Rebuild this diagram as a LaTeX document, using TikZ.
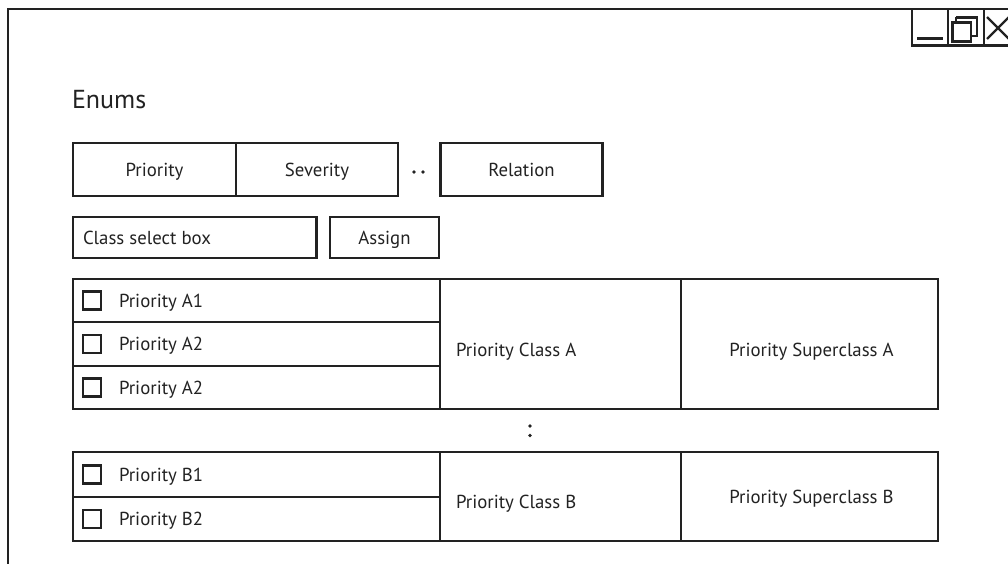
\documentclass[tikz,border=0pt]{standalone}
\usepackage{fontspec}
\setmainfont{PT Sans}
\usetikzlibrary{calc}
\definecolor{ink}{HTML}{222222}
\begin{document}
\begin{tikzpicture}[x=1pt,y=-1pt,
  ln/.style={draw=ink, line width=2.2pt},
  txt/.style={inner sep=0pt, outer sep=0pt, text=ink, font=\fontsize{18.8}{22}\selectfont,
    text height=15.6pt, text depth=2.4pt},
  cell/.style={ln, txt, rectangle, anchor=north west},
  chk/.style={ln, rectangle, minimum size=18pt, inner sep=0pt, outer sep=0pt, anchor=west},
  dot/.style={fill=ink, circle, inner sep=0pt, minimum size=3.6pt},
]
\clip (0,0) rectangle (1008,564);
\useasboundingbox (0,0) rectangle (1008,564);

% window frame
\draw[ln] (8,580) -- (8,9) -- (1030,9);

% title bar buttons
\node[cell, minimum width=36pt, minimum height=36.5pt] (minb) at (912,9) {};
\node[cell, minimum width=36pt, minimum height=36.5pt] (maxb) at (948,9) {};
\node[cell, minimum width=36pt, minimum height=36.5pt] (clsb) at (984,9) {};
\draw[ln] ($(minb.south west)+(5,-7)$) -- ($(minb.south east)+(-5,-7)$);
\draw[ln] ($(maxb.north west)+(8,8.5)$) -- ($(maxb.north west)+(29,8.5)$) -- ($(maxb.north west)+(29,27)$) -- ($(maxb.north west)+(23,27)$);
\draw[ln] ($(maxb.north west)+(8,8.5)$) -- ($(maxb.north west)+(8,13.5)$);
\draw[ln] ($(maxb.north west)+(4.5,13.5)$) rectangle ($(maxb.north west)+(23,32.5)$);
\draw[ln] ($(clsb.north west)+(3,8)$) -- ($(clsb.north west)+(25,30)$);
\draw[ln] ($(clsb.north west)+(3,30)$) -- ($(clsb.north west)+(25,8)$);

% heading
\node[txt, anchor=west, font=\fontsize{26}{30}\selectfont, text height=21pt, text depth=3pt] (enums) at (72,100) {Enums};

% enum tabs
\node[cell, minimum width=163pt, minimum height=53pt] (tprio) at (73,143) {Priority};
\node[cell, minimum width=162pt, minimum height=53pt] (tsev) at (236,143) {Severity};
\node[dot] (d1) at (414,172) {};
\node[dot] (d2) at (423,172) {};
\node[cell, minimum width=162pt, minimum height=53pt] (trel) at (440.5,143) {Relation};

% class selection row
\node[cell, minimum width=243.5pt, minimum height=41pt] (csel) at (73,217) {};
\node[txt, anchor=west] (cseltxt) at ($(csel.west)+(10,0)$) {Class select box};
\node[cell, minimum width=109pt, minimum height=41pt] (assign) at (330,217) {Assign};

% group A
\node[cell, minimum width=367pt, minimum height=43pt] (a1) at (73,279) {};
\node[cell, minimum width=367pt, minimum height=44pt] (a2) at (73,322) {};
\node[cell, minimum width=367pt, minimum height=43pt] (a3) at (73,366) {};
\node[cell, minimum width=241pt, minimum height=130pt] (classA) at (440,279) {};
\node[cell, minimum width=257pt, minimum height=130pt] (superA) at (681,279) {};
\node[chk] (ca1) at ($(a1.west)+(10,0)$) {};
\node[chk] (ca2) at ($(a2.west)+(10,0)$) {};
\node[chk] (ca3) at ($(a3.west)+(10,0)$) {};
\node[txt, anchor=west] (la1) at ($(a1.west)+(46,0)$) {Priority A1};
\node[txt, anchor=west] (la2) at ($(a2.west)+(46,0)$) {Priority A2};
\node[txt, anchor=west] (la3) at ($(a3.west)+(46,0)$) {Priority A2};
\node[txt, anchor=west] (lca) at ($(classA.west)+(16,6)$) {Priority Class A};
\node[txt] (lsa) at ($(superA.center)+(2,6)$) {Priority Superclass A};

% continuation mark
\node[dot] (v1) at (530,426) {};
\node[dot] (v2) at (530,435.5) {};

% group B
\node[cell, minimum width=367pt, minimum height=45pt] (b1) at (73,452) {};
\node[cell, minimum width=367pt, minimum height=44pt] (b2) at (73,497) {};
\node[cell, minimum width=241pt, minimum height=89pt] (classB) at (440,452) {};
\node[cell, minimum width=257pt, minimum height=89pt] (superB) at (681,452) {};
\node[chk] (cb1) at ($(b1.west)+(10,0)$) {};
\node[chk] (cb2) at ($(b2.west)+(10,0)$) {};
\node[txt, anchor=west] (lb1) at ($(b1.west)+(46,0)$) {Priority B1};
\node[txt, anchor=west] (lb2) at ($(b2.west)+(46,0)$) {Priority B2};
\node[txt, anchor=west] (lcb) at ($(classB.west)+(16,5)$) {Priority Class B};
\node[txt] (lsb) at ($(superB.center)+(2,0)$) {Priority Superclass B};
\end{tikzpicture}
\end{document}
